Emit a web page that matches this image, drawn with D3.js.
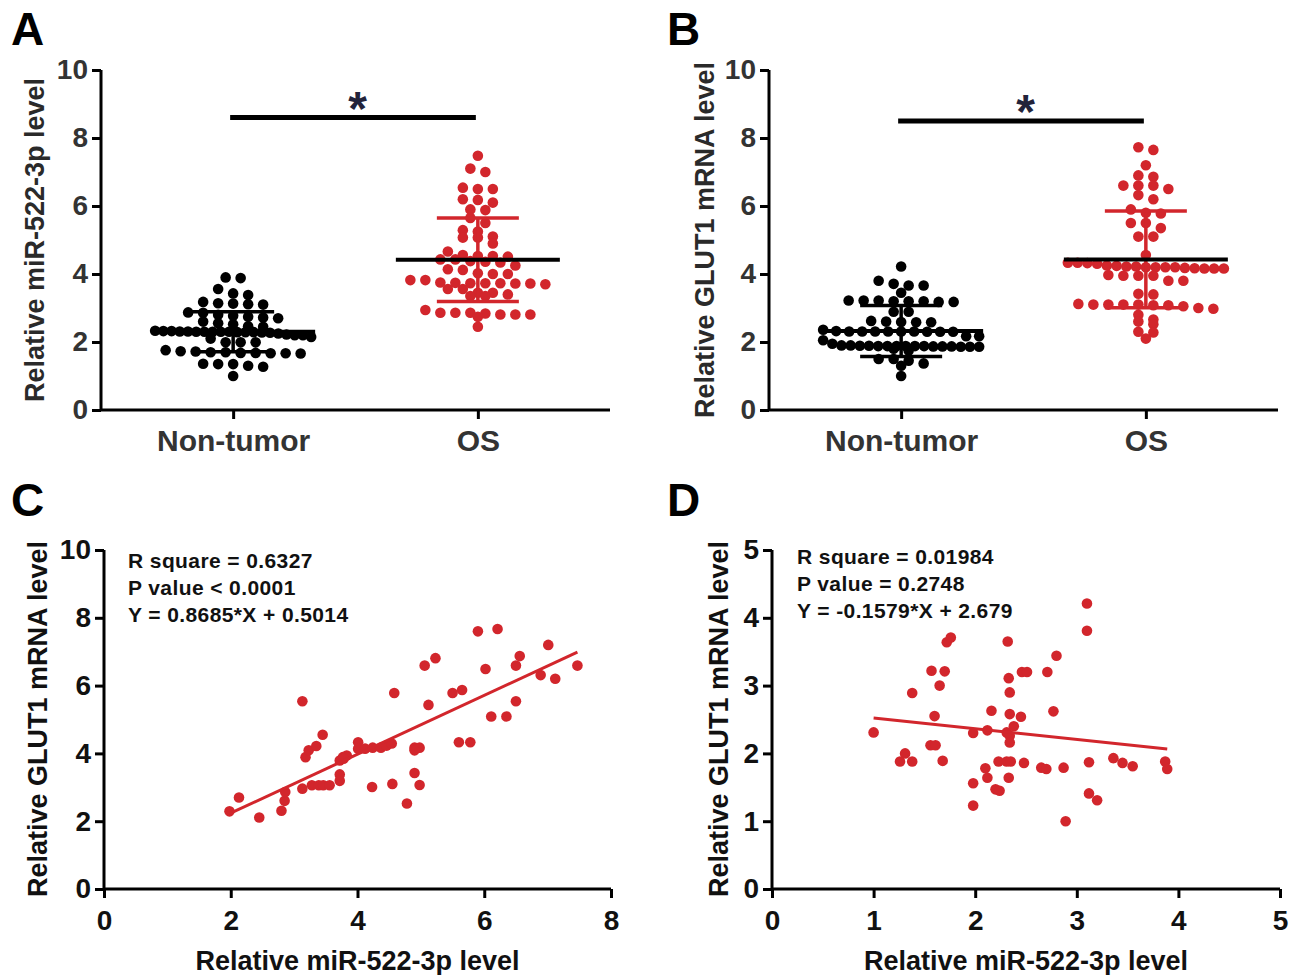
<!DOCTYPE html>
<html>
<head>
<meta charset="utf-8">
<script src="https://cdn.jsdelivr.net/npm/d3@7"></script>
<style>
  body { margin: 0; background: #fff; }
  text { font-family: Arial, "Liberation Sans", sans-serif; font-weight: bold; }
</style>
</head>
<body>
<svg id="fig" width="1291" height="975"></svg>
<script>
// values
var groups = ["Non-tumor", "OS"];

var aNon = [3.9, 3.88, 3.56, 3.43, 3.38, 3.18, 3.14, 3.13, 3.11, 3.1,
  2.87, 2.86, 2.8, 2.77, 2.74, 2.72, 2.7,
  2.6, 2.55, 2.52, 2.46, 2.45,
  2.33, 2.32, 2.32, 2.31, 2.31, 2.3, 2.3, 2.3, 2.3, 2.3, 2.29, 2.29, 2.29, 2.28, 2.27, 2.25, 2.22, 2.2, 2.2,
  2.15, 2.1, 1.99, 1.99, 1.99,
  1.76, 1.73, 1.72, 1.7, 1.7, 1.68, 1.68, 1.67, 1.67, 1.66,
  1.36, 1.35, 1.35, 1.3, 1.27, 1.0];
var aOS = [7.48, 7.1, 7.0, 6.54, 6.5, 6.5, 6.2, 6.18, 6.1, 5.9, 5.88, 5.65, 5.5,
  5.29, 5.25, 5.1, 5.07, 5.07, 4.9, 4.66, 4.56, 4.53, 4.53, 4.51,
  4.43, 4.43, 4.38, 4.36, 4.34, 4.25, 4.14, 4.12, 4.02, 4.0, 4.0,
  3.82, 3.82, 3.75, 3.74, 3.73, 3.73, 3.73, 3.72, 3.72, 3.7, 3.56, 3.56,
  3.45, 3.45, 3.4, 3.35, 3.35,
  2.94, 2.86, 2.86, 2.86, 2.84, 2.81, 2.81, 2.81, 2.74, 2.45];
var aMean = [2.30, 4.42];
var aSD = [0.59, 1.23];

var bNon = [4.22, 3.8, 3.71, 3.66, 3.66, 3.45,
  3.22, 3.22, 3.22, 3.2, 3.2, 3.2, 3.18, 3.18, 2.89, 2.89,
  2.62, 2.6, 2.59, 2.58, 2.58,
  2.36, 2.32, 2.31, 2.31, 2.31, 2.31, 2.31, 2.31, 2.3, 2.3, 2.3, 2.17, 2.17,
  2.05, 1.95, 1.9, 1.9, 1.89, 1.89, 1.88, 1.88, 1.88, 1.88, 1.88, 1.88, 1.87, 1.87, 1.87, 1.86, 1.86, 1.86, 1.8, 1.75,
  1.5, 1.5, 1.45, 1.37, 1.3, 1.0];
var bOS = [7.73, 7.65, 7.2, 6.9, 6.86, 6.6, 6.6, 6.6, 6.5, 6.32, 6.2, 5.9, 5.8, 5.78,
  5.5, 5.5, 5.35, 5.1, 5.1, 4.56,
  4.33, 4.33, 4.32, 4.3, 4.25, 4.24, 4.22, 4.22, 4.2, 4.2, 4.2, 4.2, 4.18, 4.17, 4.16, 4.16, 4.16,
  3.97, 3.95, 3.95, 3.95, 3.8, 3.8, 3.42, 3.4,
  3.12, 3.1, 3.1, 3.1, 3.1, 3.08, 3.08, 3.05, 3.0, 2.98,
  2.8, 2.66, 2.6, 2.52, 2.3, 2.28, 2.1];
var bMean = [2.32, 4.43];
var bSD = [0.75, 1.42];
var sigLevel = [8.6, 8.5];

var cX = [1.98, 2.13, 2.45, 2.80, 2.85, 2.86, 3.13, 3.13, 3.18, 3.23, 3.35, 3.45,
  3.28, 3.39, 3.46, 3.56, 3.72, 3.72, 3.72, 3.77, 3.83, 3.78, 4.01,
  4.01, 4.12, 4.24, 4.37, 4.46, 4.54, 4.23, 4.58, 4.55, 4.78, 4.90, 4.98, 4.90,
  4.90, 4.98, 5.06, 5.23, 5.12, 5.50, 5.65, 5.60, 5.78, 5.90, 6.21, 6.02,
  6.11, 6.35, 6.50, 6.50, 6.56, 6.89, 7.01, 7.12, 7.47];
var cY = [2.29, 2.70, 2.11, 2.31, 2.60, 2.86, 5.54, 2.96, 3.89, 4.09, 4.22, 4.55,
  3.06, 3.06, 3.06, 3.06, 3.19, 3.38, 3.79, 3.89, 3.94, 3.84, 4.33,
  4.14, 4.14, 4.17, 4.17, 4.23, 4.29, 3.01, 5.78, 3.10, 2.52, 4.17, 4.17, 4.09,
  3.42, 3.07, 6.59, 6.81, 5.43, 5.78, 5.87, 4.33, 4.33, 7.60, 7.67, 6.49,
  5.09, 5.09, 5.54, 6.59, 6.87, 6.31, 7.20, 6.20, 6.59];
var cFit = [0.8685, 0.5014];
var cStats = ["R square = 0.6327", "P value < 0.0001", "Y = 0.8685*X + 0.5014"];

var dX = [1.00, 1.31, 1.26, 1.38, 1.38, 1.57, 1.70, 1.65, 1.72, 1.76, 1.60, 1.56, 1.61, 1.68,
  1.98, 2.12, 2.16, 2.10, 2.12, 1.98, 1.98, 2.20, 2.24, 2.23, 2.32, 2.33, 2.34, 2.34,
  2.31, 2.34, 2.34, 2.38, 2.31, 2.35, 2.33, 2.45, 2.46, 2.51, 2.48, 2.65, 2.70, 2.71,
  2.80, 2.77, 2.87, 2.89, 3.10, 3.10, 3.12, 3.12, 3.20, 3.36, 3.45, 3.55, 3.87, 3.89];
var dY = [2.31, 2.00, 1.88, 1.88, 2.89, 3.22, 3.21, 3.00, 3.64, 3.71, 2.55, 2.12, 2.12, 1.89,
  2.30, 2.34, 2.63, 1.78, 1.64, 1.56, 1.23, 1.47, 1.45, 1.88, 3.65, 3.11, 2.90, 2.58,
  2.31, 2.26, 2.16, 2.40, 1.88, 1.88, 1.64, 2.54, 3.20, 3.20, 1.86, 1.79, 1.77, 3.20,
  3.44, 2.62, 1.79, 1.00, 4.21, 3.81, 1.87, 1.41, 1.31, 1.93, 1.86, 1.81, 1.88, 1.77];
var dFit = [-0.1579, 2.679];
var dStats = ["R square = 0.01984", "P value = 0.2748", "Y = -0.1579*X + 2.679"];

var red = "#d2262c";
var tickColor = "#333";
var svg = d3.select("#fig");

function styleAxis(g, fontSize, color) {
  g.select(".domain").attr("stroke", "#000").attr("stroke-width", 3);
  g.selectAll(".tick line").attr("stroke", "#000").attr("stroke-width", 3);
  g.selectAll(".tick text").attr("fill", color).style("font-size", fontSize + "px");
}

// rows of points at nearly the same value are spread sideways
function swarm(values, y, cx) {
  var sorted = values.slice().sort(function (a, b) { return b - a; });
  var rows = [];
  sorted.forEach(function (v) {
    var last = rows[rows.length - 1];
    if (last && y(v) - last.y0 < 6.5) last.pts.push(v);
    else rows.push({ y0: y(v), pts: [v] });
  });
  var out = [];
  rows.forEach(function (r) {
    var n = r.pts.length;
    var step = n > 1 ? Math.min(15, 156 / (n - 1)) : 0;
    r.pts.forEach(function (v, i) { out.push({ v: v, x: cx + (i - (n - 1) / 2) * step }); });
  });
  return out;
}

function dotPanel(p) {
  var y = d3.scaleLinear().domain([0, 10]).range([410, 70]);
  var x = d3.scalePoint().domain(groups).range([p.x0, p.x1]).padding(0.54);

  var yAxis = svg.append("g").attr("transform", "translate(" + p.x0 + ",0)")
    .call(d3.axisLeft(y).tickValues([0, 2, 4, 6, 8, 10]).tickSize(9).tickSizeOuter(0).tickPadding(4));
  styleAxis(yAxis, 28, tickColor);
  yAxis.select(".domain").attr("d", "M0," + y(10) + "V" + y(0));

  var xAxis = svg.append("g").attr("transform", "translate(0," + y(0) + ")")
    .call(d3.axisBottom(x).tickSize(9).tickSizeOuter(0).tickPadding(11));
  styleAxis(xAxis, 30, tickColor);
  xAxis.select(".domain").attr("d", "M" + p.x0 + ",0H" + p.x1);

  svg.append("text").attr("transform", "translate(" + p.titleX + "," + (y(10) + y(0)) / 2 + ") rotate(-90)")
    .attr("text-anchor", "middle").style("font-size", "27px").attr("fill", "#2a2a2a").text(p.title);

  var cols = ["#000", red];
  [p.non, p.os].forEach(function (vals, gi) {
    var cx = x(groups[gi]);
    svg.append("g").selectAll("circle").data(swarm(vals, y, cx)).enter().append("circle")
      .attr("cx", function (d) { return d.x; })
      .attr("cy", function (d) { return y(d.v); })
      .attr("r", 5.3)
      .attr("fill", cols[gi]);
  });

  // mean and SD
  groups.forEach(function (gname, gi) {
    var cx = x(gname), m = p.mean[gi], s = p.sd[gi];
    var g = svg.append("g").attr("stroke", cols[gi]).attr("stroke-width", 3.5);
    g.append("line").attr("x1", cx).attr("x2", cx).attr("y1", y(m + s)).attr("y2", y(m - s));
    g.append("line").attr("x1", cx - 41).attr("x2", cx + 41).attr("y1", y(m + s)).attr("y2", y(m + s));
    g.append("line").attr("x1", cx - 41).attr("x2", cx + 41).attr("y1", y(m - s)).attr("y2", y(m - s));
    svg.append("line").attr("x1", cx - 82).attr("x2", cx + 82).attr("y1", y(m)).attr("y2", y(m))
      .attr("stroke", "#000").attr("stroke-width", 4);
  });

  var sy = y(p.sig);
  svg.append("line").attr("x1", x(groups[0]) - 3).attr("x2", x(groups[1]) - 2)
    .attr("y1", sy).attr("y2", sy).attr("stroke", "#000").attr("stroke-width", 5);
  svg.append("text").attr("x", (x(groups[0]) + x(groups[1])) / 2 + 2).attr("y", sy + 7)
    .attr("text-anchor", "middle").style("font-size", "48px").attr("fill", "#23233a").text("*");

  svg.append("text").attr("x", p.letterX).attr("y", 45).style("font-size", "46px").attr("fill", "#000").text(p.letter);
}

function scatterPanel(p) {
  var x = d3.scaleLinear().domain([0, p.xMax]).range([p.x0, p.x1]);
  var y = d3.scaleLinear().domain([0, p.yMax]).range([889, 550]);

  var yAxis = svg.append("g").attr("transform", "translate(" + p.x0 + ",0)")
    .call(d3.axisLeft(y).tickValues(d3.range(0, p.yMax + 0.001, p.yStep)).tickFormat(d3.format("d"))
      .tickSize(9).tickSizeOuter(0).tickPadding(4));
  styleAxis(yAxis, 28, "#111");
  yAxis.select(".domain").attr("d", "M0," + y(p.yMax) + "V" + y(0));

  var xAxis = svg.append("g").attr("transform", "translate(0," + y(0) + ")")
    .call(d3.axisBottom(x).tickValues(d3.range(0, p.xMax + 0.001, p.xStep)).tickFormat(d3.format("d"))
      .tickSize(9).tickSizeOuter(0).tickPadding(12));
  styleAxis(xAxis, 28, "#111");
  xAxis.select(".domain").attr("d", "M" + p.x0 + ",0H" + p.x1);

  svg.append("text").attr("transform", "translate(" + p.titleX + ",719) rotate(-90)")
    .attr("text-anchor", "middle").style("font-size", "27px").attr("fill", "#111").text("Relative GLUT1 mRNA level");
  svg.append("text").attr("x", (p.x0 + p.x1) / 2).attr("y", 970)
    .attr("text-anchor", "middle").style("font-size", "27px").attr("fill", "#111").text("Relative miR-522-3p level");

  var pts = p.xs.map(function (v, i) { return [v, p.ys[i]]; });
  svg.append("g").selectAll("circle").data(pts).enter().append("circle")
    .attr("cx", function (d) { return x(d[0]); })
    .attr("cy", function (d) { return y(d[1]); })
    .attr("r", 5.3)
    .attr("fill", red);

  var ext = d3.extent(p.xs);
  var line = d3.line().x(function (d) { return x(d); }).y(function (d) { return y(p.fit[0] * d + p.fit[1]); });
  svg.append("path").datum(ext).attr("d", line).attr("stroke", red).attr("stroke-width", 3).attr("fill", "none");

  svg.append("g").selectAll("text").data(p.stats).enter().append("text")
    .attr("x", p.textX)
    .attr("y", function (d, i) { return p.textY + i * 27; })
    .style("font-size", "21px").style("letter-spacing", "0.4px").attr("fill", "#111")
    .text(function (d) { return d; });

  svg.append("text").attr("x", p.letterX).attr("y", 516).style("font-size", "46px").attr("fill", "#000").text(p.letter);
}

dotPanel({ x0: 101, x1: 610, titleX: 44, title: "Relative miR-522-3p level", non: aNon, os: aOS,
  mean: aMean, sd: aSD, sig: sigLevel[0], letter: "A", letterX: 11 });
dotPanel({ x0: 769, x1: 1278, titleX: 714, title: "Relative GLUT1 mRNA level", non: bNon, os: bOS,
  mean: bMean, sd: bSD, sig: sigLevel[1], letter: "B", letterX: 667 });
scatterPanel({ x0: 104, x1: 611, xMax: 8, xStep: 2, yMax: 10, yStep: 2, titleX: 47, xs: cX, ys: cY,
  fit: cFit, stats: cStats, textX: 128, textY: 568, letter: "C", letterX: 11 });
scatterPanel({ x0: 772, x1: 1280, xMax: 5, xStep: 1, yMax: 5, yStep: 1, titleX: 728, xs: dX, ys: dY,
  fit: dFit, stats: dStats, textX: 797, textY: 564, letter: "D", letterX: 667 });
</script>
</body>
</html>
